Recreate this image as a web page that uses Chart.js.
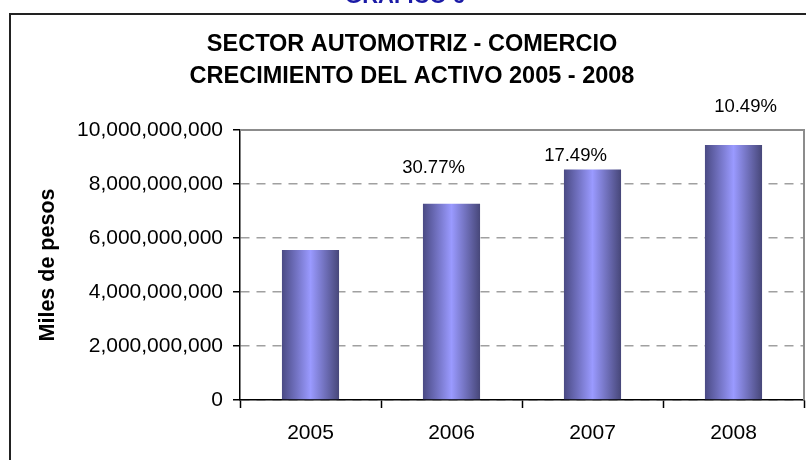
<!DOCTYPE html>
<html>
<head>
<meta charset="utf-8">
<script src="https://cdn.jsdelivr.net/npm/chart.js@4"></script>
<style>
  html, body { margin: 0; padding: 0; background: #fff; }
  #wrap { width: 806px; height: 460px; position: relative; overflow: hidden; }
</style>
</head>
<body>
<div id="wrap"><canvas id="c" width="806" height="460"></canvas></div>
<script>
// Datos del gráfico
const years = ['2005', '2006', '2007', '2008'];
const activo = [5560000000, 7270000000, 8540000000, 9440000000];
const crecimiento = ['', '30.77%', '17.49%', '10.49%'];
const yMax = 10000000000;
const yStep = 2000000000;

Chart.defaults.font.family = "'Liberation Sans', Arial, sans-serif";
Chart.defaults.color = '#000';

// desplazamiento manual de las etiquetas de % (como en el original)
const labelOffsets = [[0, 0], [-18, -36], [-17, -14], [12, -38]];

const decor = {
  id: 'decor',
  beforeDatasetsDraw(chart) {
    const ctx = chart.ctx;
    chart.getDatasetMeta(0).data.forEach(bar => {
      const g = ctx.createLinearGradient(bar.x - bar.width / 2, 0, bar.x + bar.width / 2, 0);
      g.addColorStop(0, '#4a4a84');
      g.addColorStop(0.5, '#9a9aff');
      g.addColorStop(1, '#474779');
      bar.options.backgroundColor = g;
    });
  },
  afterDraw(chart) {
    const ctx = chart.ctx;
    const a = chart.chartArea;
    ctx.save();
    // marco exterior
    ctx.strokeStyle = '#222';
    ctx.lineWidth = 2;
    ctx.strokeRect(10, 14, 900, 900);
    // borde del área de trazado (arriba y derecha)
    ctx.strokeStyle = '#8c8c8c';
    ctx.lineWidth = 2;
    ctx.beginPath();
    ctx.moveTo(a.left, a.top);
    ctx.lineTo(a.right, a.top);
    ctx.lineTo(a.right, a.bottom);
    ctx.stroke();
    // etiquetas de crecimiento
    ctx.fillStyle = '#000';
    ctx.font = "18.5px 'Liberation Sans', Arial, sans-serif";
    ctx.textAlign = 'center';
    ctx.textBaseline = 'middle';
    chart.getDatasetMeta(0).data.forEach((bar, i) => {
      if (!crecimiento[i]) return;
      ctx.fillText(crecimiento[i], bar.x + labelOffsets[i][0], bar.y + labelOffsets[i][1]);
    });
    // encabezado cortado
    ctx.fillStyle = '#1a1aa6';
    ctx.font = "bold 22px 'Liberation Sans', Arial, sans-serif";
    ctx.textBaseline = 'alphabetic';
    ctx.fillText('GRAFICO 6', 405, 3);
    ctx.restore();
  }
};

new Chart(document.getElementById('c'), {
  type: 'bar',
  data: {
    labels: years,
    datasets: [{
      data: activo,
      backgroundColor: () => '#8080e0',
      borderWidth: 0,
      barPercentage: 0.405,
      categoryPercentage: 1
    }]
  },
  options: {
    responsive: false,
    animation: false,
    layout: { padding: { left: 20, right: 2, top: 0, bottom: 0 } },
    plugins: {
      legend: { display: false },
      tooltip: { enabled: false },
      title: {
        display: true,
        text: ['SECTOR AUTOMOTRIZ - COMERCIO', 'CRECIMIENTO DEL ACTIVO 2005 - 2008'],
        color: '#000',
        font: { size: 23.5, weight: 'bold', lineHeight: 32 / 23.5 },
        padding: { top: 29, bottom: 37 }
      }
    },
    scales: {
      x: {
        grid: { offset: true, drawOnChartArea: false, tickLength: 8, tickColor: '#000', tickWidth: 1.5 },
        border: { color: '#000', width: 1.5 },
        ticks: { color: '#000', font: { size: 21 }, padding: 13 },
        afterFit: s => { s.height = 60; }
      },
      y: {
        min: 0,
        max: yMax,
        ticks: {
          stepSize: yStep,
          color: '#000',
          font: { size: 21 },
          padding: 10,
          callback: v => v.toLocaleString('en-US')
        },
        grid: { color: '#a0a0a0', lineWidth: 1.5, tickColor: '#000', tickLength: 7, tickWidth: 1.5, tickBorderDash: [] },
        border: { color: '#000', width: 1.5, dash: [9, 7] },
        title: {
          display: true,
          text: 'Miles de pesos',
          color: '#000',
          font: { size: 21.5, weight: 'bold' },
          padding: { top: 15, bottom: 0 }
        },
        afterFit: s => { s.width = 220; }
      }
    }
  },
  plugins: [decor]
});
</script>
</body>
</html>
